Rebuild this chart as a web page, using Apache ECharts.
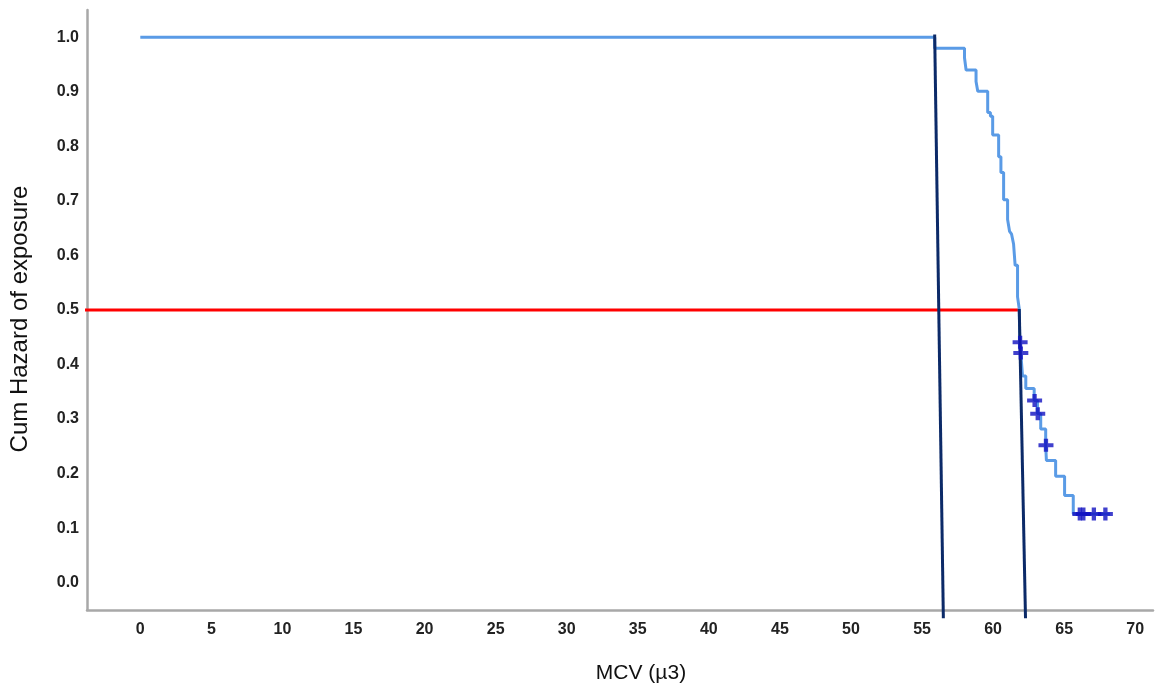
<!DOCTYPE html>
<html>
<head>
<meta charset="utf-8">
<script src="https://cdn.jsdelivr.net/npm/echarts@6/dist/echarts.min.js"></script>
<style>html,body{margin:0;padding:0;background:#fff;}#c{width:1156px;height:689px;}</style>
</head>
<body>
<div id="c"></div>
<script>
// Kaplan-Meier style step curve (drop happens at each time)
var stepTimes = [0, 55.89, 57.99, 58.10, 58.80, 58.92, 59.62, 59.81, 59.97, 60.39, 60.55, 60.74, 61.02, 61.16, 61.30, 61.44, 61.55, 61.72, 61.84, 61.88, 61.93, 61.98, 62.07, 62.30, 62.89, 63.12, 63.35, 63.70, 63.75, 64.40, 65.03, 65.64, 68.23];
var stepValues = [1.0, 0.980, 0.962, 0.940, 0.919, 0.901, 0.862, 0.855, 0.821, 0.781, 0.752, 0.702, 0.666, 0.644, 0.639, 0.621, 0.582, 0.524, 0.502, 0.441, 0.421, 0.410, 0.379, 0.356, 0.334, 0.310, 0.282, 0.252, 0.224, 0.195, 0.160, 0.126, 0.126];
// censored observations
var censorTimes = [61.90, 61.95, 62.92, 63.14, 63.72, 66.10, 66.35, 67.09, 67.90];
var censorValues = [0.441, 0.421, 0.334, 0.310, 0.252, 0.126, 0.126, 0.126, 0.126];
// reference lines
var halfLineX = [-3.9, 61.84];
var halfLineY = [0.5, 0.5];
var cut1X = [55.89, 56.50];
var cut1Y = [1.005, -0.065];
var cut2X = [61.84, 62.28];
var cut2Y = [0.502, -0.065];
// axes
var xMin = -3.75, xMax = 71.25, xStep = 1.25;
var yMin = -0.05, yMax = 1.05, yStep = 0.05;

function zip(a, b) { return a.map(function (v, i) { return [v, b[i]]; }); }

var chart = echarts.init(document.getElementById('c'), null, {renderer: 'canvas'});
var labelFont = {fontFamily: 'Liberation Sans, Arial, sans-serif', fontWeight: 'bold', fontSize: 16, color: '#222'};
chart.setOption({
  animation: false,
  backgroundColor: '#fff',
  grid: {left: 85, right: 0, top: 10, bottom: 76},
  xAxis: {
    type: 'value', min: xMin, max: xMax, interval: xStep,
    name: 'MCV (µ3)', nameLocation: 'middle', nameGap: 53,
    nameTextStyle: {fontFamily: 'Liberation Sans, Arial, sans-serif', fontSize: 21, color: '#111', padding: [0, 0, 0, 42]},
    axisLine: {onZero: false, lineStyle: {color: '#a8a8a8', width: 2.5}},
    axisTick: {show: false},
    splitLine: {show: false},
    axisLabel: Object.assign({margin: 12, formatter: function (v) {
      var r = Math.round(v * 100);
      return r % 500 === 0 ? String(Math.round(v)) : '';
    }}, labelFont)
  },
  yAxis: {
    type: 'value', min: yMin, max: yMax, interval: yStep,
    name: 'Cum Hazard of exposure', nameLocation: 'middle', nameGap: 55, nameRotate: 90,
    nameTextStyle: {fontFamily: 'Liberation Sans, Arial, sans-serif', fontSize: 24, color: '#111', padding: [0, 18, 0, 0]},
    axisLine: {show: true, onZero: false, lineStyle: {color: '#a8a8a8', width: 2.5}},
    axisTick: {show: false},
    splitLine: {show: false},
    axisLabel: Object.assign({margin: 8, formatter: function (v) {
      var r = Math.round(v * 100);
      return (r % 10 === 0 && r >= 0 && r <= 100) ? (r / 100).toFixed(1) : '';
    }}, labelFont)
  },
  series: [
    {type: 'line', data: zip(halfLineX, halfLineY), symbol: 'none', clip: false, z: 2,
      lineStyle: {color: '#ff0000', width: 3}},
    {type: 'line', step: 'end', data: zip(stepTimes, stepValues), symbol: 'none', z: 3,
      lineStyle: {color: '#5a9be6', width: 3}},
    {type: 'line', data: zip(cut1X, cut1Y), symbol: 'none', clip: false, z: 4,
      lineStyle: {color: '#0c2a68', width: 3}},
    {type: 'line', data: zip(cut2X, cut2Y), symbol: 'none', clip: false, z: 4,
      lineStyle: {color: '#0c2a68', width: 3}},
    {type: 'scatter', data: zip(censorTimes, censorValues), z: 5,
      symbol: 'path://M0,4.5 L14,4.5 L14,8.5 L0,8.5 Z M5,0 L9,0 L9,13 L5,13 Z',
      symbolSize: [15, 13], itemStyle: {color: '#1010c0'}}
  ]
});
</script>
</body>
</html>
